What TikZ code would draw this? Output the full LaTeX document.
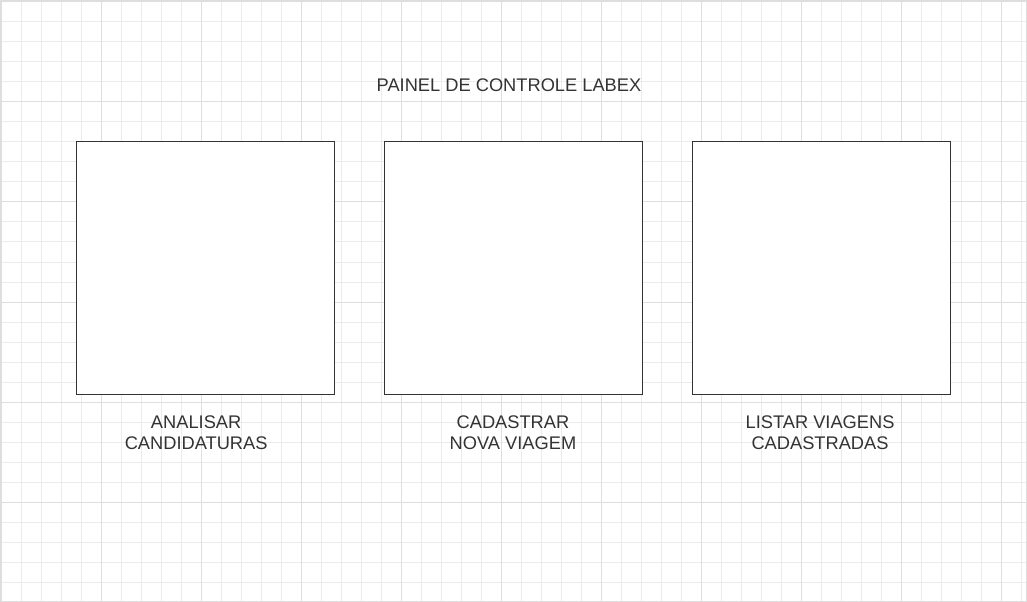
\documentclass[tikz,border=0pt]{standalone}
\usepackage{fontspec}
\setmainfont{Liberation Sans}
\usepackage{xcolor}
\usetikzlibrary{positioning}

\definecolor{gridminor}{HTML}{EBEBEB}
\definecolor{gridmajor}{HTML}{DEDEDE}
\definecolor{inkgray}{HTML}{333333}

\begin{document}
\begin{tikzpicture}[
    x=0.75pt, y=-0.75pt,
    font=\fontsize{13.7pt}{15.75pt}\selectfont,
    minorline/.style={draw=gridminor, line width=0.75pt},
    majorline/.style={draw=gridmajor, line width=0.75pt},
    panelbox/.style={draw=inkgray, line width=0.75pt, fill=white, outer sep=0pt, minimum width=193.5pt, minimum height=189.75pt},
    caption/.style={text=inkgray, align=center, inner sep=0pt}
]
\useasboundingbox (0,0) rectangle (1027,602);
\fill[white] (0,0) rectangle (1027,602);

% Grid
\foreach \i in {0,...,51} \draw[minorline] (1+20*\i,0) -- (1+20*\i,602);
\foreach \j in {0,...,30} \draw[minorline] (0,2+20*\j) -- (1027,2+20*\j);
\foreach \i in {0,...,10} \draw[majorline] (1+100*\i,0) -- (1+100*\i,602);
\foreach \j in {0,...,6} \draw[majorline] (0,2+100*\j) -- (1027,2+100*\j);
\draw[gridmajor, line width=1.5pt] (0,0) rectangle (1027,602);

% Title
\node[caption] (title) at (509,85) {PAINEL DE CONTROLE LABEX};

% Panels
\node[panelbox, anchor=north west] (analisar) at (76.5,141.5) {};
\node[panelbox, right=37.5pt of analisar] (cadastrar) {};
\node[panelbox, right=37.5pt of cadastrar] (listar) {};

% Captions
\node[caption, below=15.75pt of analisar, xshift=-7pt] (capanalisar) {ANALISAR\\CANDIDATURAS};
\node[caption, below=15.75pt of cadastrar, xshift=-0.4pt] (capcadastrar) {CADASTRAR\\NOVA VIAGEM};
\node[caption, below=15.75pt of listar, xshift=-1.1pt] (caplistar) {LISTAR VIAGENS\\CADASTRADAS};
\end{tikzpicture}
\end{document}
